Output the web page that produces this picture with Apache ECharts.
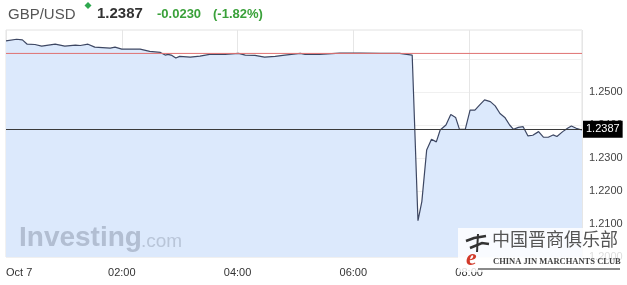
<!DOCTYPE html>
<html><head><meta charset="utf-8">
<script src="https://cdn.jsdelivr.net/npm/echarts@6/dist/echarts.min.js"></script>
<style>html,body{margin:0;padding:0;background:#fff}#c{width:627px;height:285px}</style>
</head><body><div id="c"></div>
<script>
// --- data ---
const times = ["00:00","00:11","00:17","00:22","00:30","00:37","00:51","01:01","01:12","01:17","01:25","01:32","01:48","01:53","02:00","02:19","02:29","02:40","02:45","02:48","02:52","02:56","03:00","03:11","03:21","03:31","03:47","04:01","04:08","04:18","04:28","04:39","04:49","05:05","05:10","05:25","05:46","06:07","06:28","06:48","06:50","07:01","07:07","07:11","07:16","07:21","07:26","07:30","07:36","07:41","07:46","07:50","07:56","08:01","08:06","08:11","08:16","08:22","08:27","08:32","08:37","08:42","08:46","08:51","08:56","09:01","09:06","09:12","09:17","09:22","09:27","09:31","09:37","09:42","09:46","09:51","09:57"];
const prices = [1.2655,1.2660,1.2658,1.2645,1.2644,1.2639,1.2645,1.2639,1.2642,1.2641,1.2645,1.2636,1.2633,1.2636,1.2630,1.2630,1.2623,1.2620,1.2612,1.2614,1.2611,1.2603,1.2608,1.2606,1.2609,1.2614,1.2614,1.2617,1.2612,1.2611,1.2606,1.2608,1.2612,1.2617,1.2614,1.2614,1.2618,1.2618,1.2617,1.2617,1.2614,1.2612,1.2110,1.2168,1.2324,1.2357,1.2349,1.2385,1.2400,1.2432,1.2423,1.2387,1.2387,1.2445,1.2445,1.2461,1.2476,1.2471,1.2458,1.2435,1.2423,1.2400,1.2387,1.2393,1.2395,1.2367,1.2369,1.2380,1.2363,1.2363,1.2370,1.2365,1.2380,1.2390,1.2397,1.2390,1.2385];
const xTickValues = [0, 120, 240, 360, 480];
const xTickLabels = ["Oct 7", "02:00", "04:00", "06:00", "08:00"];
const yTicks = [1.20, 1.21, 1.22, 1.23, 1.24, 1.25];
const lastPrice = 1.2387;
const prevClose = 1.2617;
const pair = "GBP/USD";
const change = "-0.0230";
const changePct = "(-1.82%)";
const xMaxMinutes = 597;
const yMin = 1.20, yMax = 1.2688;

function toMin(t){const p=t.split(":");return (+p[0])*60+(+p[1]);}
const seriesData = times.map((t,i)=>[toMin(t), prices[i]]);

const chart = echarts.init(document.getElementById('c'), null, {renderer:'canvas'});
const F = 'Liberation Sans, Arial, sans-serif';
chart.setOption({
  animation:false,
  backgroundColor:'#fff',
  grid:{left:6, right:45, top:30, bottom:28, show:true, borderColor:'#e2e2e2', borderWidth:1, backgroundColor:'transparent'},
  xAxis:{
    type:'value', min:0, max:xMaxMinutes, interval:120,
    axisLine:{show:false}, axisTick:{show:false},
    splitLine:{show:true, lineStyle:{color:'#e6e6e6', width:1}},
    axisLabel:{
      color:'#333', fontFamily:F, fontSize:11, margin:10,
      showMaxLabel:false, alignMinLabel:'left',
      formatter:(v)=>{const i=xTickValues.indexOf(v);return i>=0?xTickLabels[i]:'';}
    }
  },
  yAxis:{
    type:'value', position:'right', min:yMin, max:yMax, interval:0.01,
    axisLine:{show:false}, axisTick:{show:false},
    splitLine:{show:true, lineStyle:{color:'#f0f0f0', width:1}},
    axisLabel:{
      color:'#444', fontFamily:F, fontSize:11, margin:7, showMaxLabel:false,
      formatter:(v)=>{const r=Math.round(v*100)/100;return yTicks.some(t=>Math.abs(t-r)<1e-9)&&Math.abs(v-r)<1e-6?v.toFixed(4):'';}
    }
  },
  series:[{
    type:'line', data:seriesData, showSymbol:false, smooth:false,
    lineStyle:{color:'#3d4763', width:1.2},
    areaStyle:{color:'#dce9fc', opacity:1},
    z:3
  },{
    type:'line', data:[[0, prevClose],[xMaxMinutes, prevClose]], z:4, showSymbol:false, silent:true,
    color:'#e07272',
    lineStyle:{color:'#e07272', width:1, type:'solid'}
  },{
    type:'line', data:[], z:5,
    markLine:{
      silent:true, symbol:['none','none'], animation:false, precision:4,
      lineStyle:{color:'#3a3a3a', width:1, type:'solid'},
      label:{show:true, position:'end', distance:1, formatter:lastPrice.toFixed(4),
             backgroundColor:'#000', color:'#fff', fontFamily:F, fontSize:11, padding:[3,3,3,3]},
      data:[{yAxis:lastPrice}]
    }
  }],
  graphic:[
    {type:'text', left:8, top:7, style:{text:pair, font:'15px '+F, fill:'#555'}},
    {type:'polygon', shape:{points:[[88,2],[91.5,5.5],[88,9],[84.5,5.5]]}, style:{fill:'#2fa84f'}},
    {type:'text', left:97, top:6, style:{text:lastPrice.toFixed(4), font:'bold 15px '+F, fill:'#333'}},
    {type:'text', left:157, top:8, style:{text:change, font:'bold 13px '+F, fill:'#3aa13a'}},
    {type:'text', left:213, top:8, style:{text:changePct, font:'bold 13px '+F, fill:'#3aa13a'}},
    {type:'text', left:19, top:224, z:20, style:{text:'Investing', font:'bold 28px '+F, fill:'rgba(135,148,168,0.5)'}},
    {type:'text', left:141, top:232, z:20, style:{text:'.com', font:'19px '+F, fill:'rgba(135,148,168,0.42)'}},
    {type:'rect', shape:{x:458, y:228, width:169, height:44}, style:{fill:'rgba(255,255,255,0.82)'}, z:50},
    {type:'rect', shape:{x:478, y:268, width:142, height:2}, style:{fill:'#8a8a8a'}, z:51},
    {type:'text', left:492, top:230, z:51, style:{text:'中国晋商俱乐部', font:'18px "Noto Sans CJK SC"', fill:'#555'}},
    {type:'text', left:493, top:257, z:51, style:{text:'CHINA JIN MARCHANTS CLUB', font:'bold 8.5px "Liberation Serif", serif', fill:'#444'}},
    {type:'text', left:466, top:247, z:51, style:{text:'e', font:'italic bold 24px "Liberation Serif", serif', fill:'#d23a2a'}},
    {type:'polyline', shape:{points:[[466,241],[474,238],[486,236]]}, style:{stroke:'#333', lineWidth:2.5, fill:null}, z:52},
    {type:'polyline', shape:{points:[[470,248],[482,243],[489,244]]}, style:{stroke:'#333', lineWidth:2.5, fill:null}, z:52},
    {type:'polyline', shape:{points:[[478,234],[477,252]]}, style:{stroke:'#333', lineWidth:2, fill:null}, z:52}
  ]
});
</script></body></html>
